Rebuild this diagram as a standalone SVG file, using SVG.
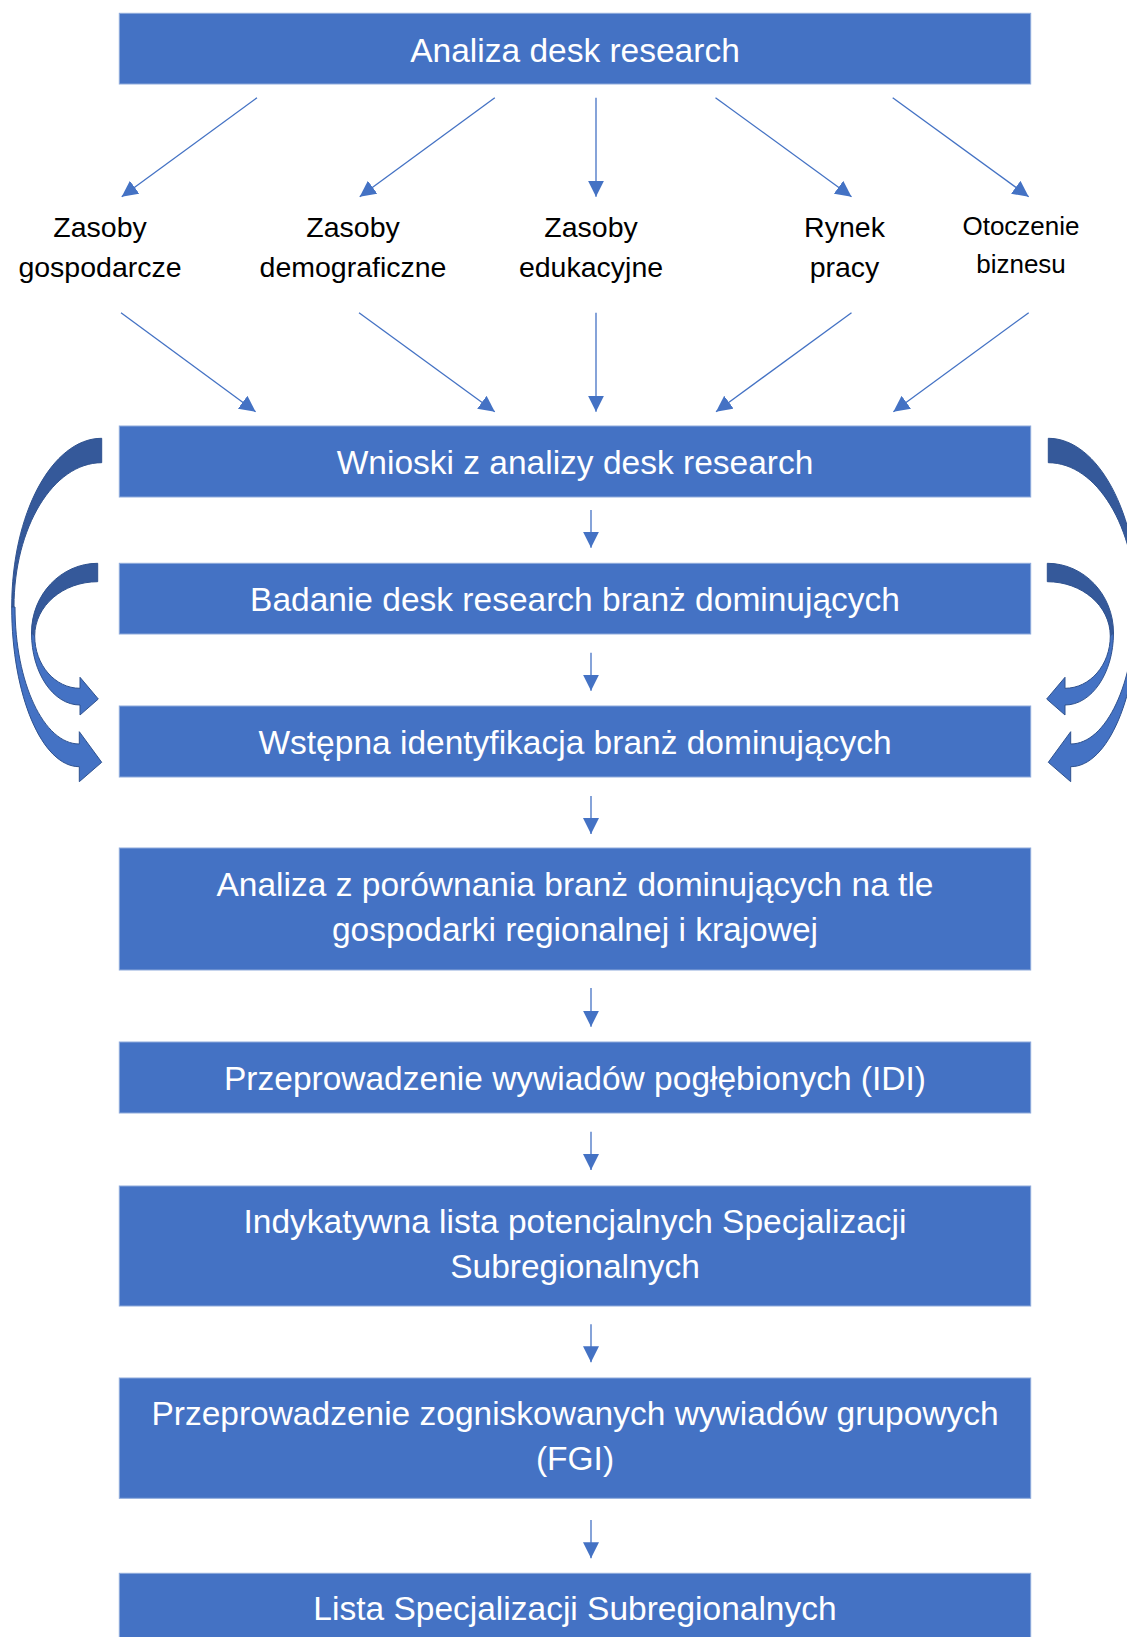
<svg xmlns="http://www.w3.org/2000/svg" xmlns:xlink="http://www.w3.org/1999/xlink" width="1127" height="1637" viewBox="0 0 1127 1637">
  <style>
    .box { fill: #4472C4; stroke: #8EAADB; stroke-width: 1; }
    .bt { font-family: "Liberation Sans", Arial, sans-serif; font-size: 33.5px; fill: #FFFFFF; text-anchor: middle; }
    .lbl { font-family: "Liberation Sans", Arial, sans-serif; font-size: 28.5px; fill: #000000; text-anchor: middle; }
    .lbl2 { font-family: "Liberation Sans", Arial, sans-serif; font-size: 26px; fill: #000000; text-anchor: middle; }
    .con { stroke: #4472C4; stroke-width: 1.3; fill: none; marker-end: url(#ah); }
    .dark { fill: #35599A; stroke: #2F528F; stroke-width: 1; stroke-linejoin: round; }
    .light { fill: #4472C4; stroke: #2F528F; stroke-width: 1; stroke-linejoin: round; }
  </style>
  <defs>
    <marker id="ah" markerUnits="userSpaceOnUse" markerWidth="16" markerHeight="16" refX="16" refY="8" orient="auto">
      <path d="M0,0 L16,8 L0,16 Z" fill="#4472C4"/>
    </marker>
    <g id="curveOuter">
      <path class="dark" d="M101.7,438.3 C52,438.3 11.7,513.8 11.7,607 L14,607 C14,527.3 53.3,462.7 101.7,462.7 Z"/>
      <path class="light" d="M11.7,607 C11.7,695.2 42,766.7 79.3,766.7 L79.3,781.7 L101.7,762.3 L79.3,731.7 L79.3,744 C43.8,744 15,682.7 15,607 Z"/>
    </g>
    <g id="curveInner">
      <path class="dark" d="M97.7,563.3 C61.1,563.3 31.5,594.5 31.5,633 L34.7,636 C34.7,606 62.9,581.7 97.7,581.7 Z"/>
      <path class="light" d="M31.5,633 C31.5,672.8 53.2,705 80,705 L80,715 L98.3,699 L80,677.3 L80,688.3 C55,688.3 34.7,664.9 34.7,636 Z"/>
    </g>
  </defs>

  <g id="n1"><rect class="box" x="119.3" y="13.3" width="911.4" height="70.7"/><text class="bt" x="575" y="61.5">Analiza desk research</text></g>

  <g id="l1"><text class="lbl" x="100" y="237">Zasoby</text><text class="lbl" x="100" y="277">gospodarcze</text></g>
  <g id="l2"><text class="lbl" x="353" y="237">Zasoby</text><text class="lbl" x="353" y="277">demograficzne</text></g>
  <g id="l3"><text class="lbl" x="591" y="237">Zasoby</text><text class="lbl" x="591" y="277">edukacyjne</text></g>
  <g id="l4"><text class="lbl" x="844.5" y="237">Rynek</text><text class="lbl" x="844.5" y="277">pracy</text></g>
  <g id="l5"><text class="lbl2" x="1021" y="235">Otoczenie</text><text class="lbl2" x="1021" y="273">biznesu</text></g>

  <g id="n2"><rect class="box" x="119.3" y="426" width="911.4" height="71"/><text class="bt" x="575" y="474">Wnioski z analizy desk research</text></g>
  <g id="n3"><rect class="box" x="119.3" y="563.3" width="911.4" height="70.7"/><text class="bt" x="575" y="611">Badanie desk research branż dominujących</text></g>
  <g id="n4"><rect class="box" x="119.3" y="706" width="911.4" height="71"/><text class="bt" x="575" y="754">Wstępna identyfikacja branż dominujących</text></g>
  <g id="n5"><rect class="box" x="119.3" y="848" width="911.4" height="122"/><text class="bt" x="575" y="896">Analiza z porównania branż dominujących na tle</text><text class="bt" x="575" y="941">gospodarki regionalnej i krajowej</text></g>
  <g id="n6"><rect class="box" x="119.3" y="1042" width="911.4" height="71"/><text class="bt" x="575" y="1090">Przeprowadzenie wywiadów pogłębionych (IDI)</text></g>
  <g id="n7"><rect class="box" x="119.3" y="1186" width="911.4" height="120"/><text class="bt" x="575" y="1233">Indykatywna lista potencjalnych Specjalizacji</text><text class="bt" x="575" y="1278">Subregionalnych</text></g>
  <g id="n8"><rect class="box" x="119.3" y="1378" width="911.4" height="120.3"/><text class="bt" x="575" y="1425">Przeprowadzenie zogniskowanych wywiadów grupowych</text><text class="bt" x="575" y="1470">(FGI)</text></g>
  <g id="n9"><rect class="box" x="119.3" y="1573.3" width="911.4" height="80"/><text class="bt" x="575" y="1620">Lista Specjalizacji Subregionalnych</text></g>

  <g id="connectors">
    <line class="con" x1="257" y1="97.7" x2="121.7" y2="196.7"/>
    <line class="con" x1="494.8" y1="97.7" x2="359.7" y2="196.7"/>
    <line class="con" x1="596" y1="97.7" x2="596" y2="196.7"/>
    <line class="con" x1="715.5" y1="97.7" x2="851.5" y2="196.7"/>
    <line class="con" x1="892.7" y1="97.7" x2="1028.7" y2="196.7"/>

    <line class="con" x1="121" y1="312.7" x2="255.6" y2="411.7"/>
    <line class="con" x1="359" y1="312.7" x2="494.8" y2="411.7"/>
    <line class="con" x1="596" y1="312.7" x2="596" y2="411.7"/>
    <line class="con" x1="851.5" y1="312.7" x2="716" y2="411.7"/>
    <line class="con" x1="1028.7" y1="312.7" x2="893.4" y2="411.7"/>

    <line class="con" x1="591" y1="510" x2="591" y2="547.7"/>
    <line class="con" x1="591" y1="652.7" x2="591" y2="690.7"/>
    <line class="con" x1="591" y1="796" x2="591" y2="834"/>
    <line class="con" x1="591" y1="988" x2="591" y2="1026.7"/>
    <line class="con" x1="591" y1="1131.7" x2="591" y2="1170"/>
    <line class="con" x1="591" y1="1324.3" x2="591" y2="1362.3"/>
    <line class="con" x1="591" y1="1520" x2="591" y2="1558.3"/>

    <use xlink:href="#curveOuter" href="#curveOuter"/>
    <use xlink:href="#curveInner" href="#curveInner"/>
    <use xlink:href="#curveOuter" href="#curveOuter" transform="translate(1150,0) scale(-1,1)"/>
    <use xlink:href="#curveInner" href="#curveInner" transform="translate(1145,0) scale(-1,1)"/>
  </g>
</svg>
